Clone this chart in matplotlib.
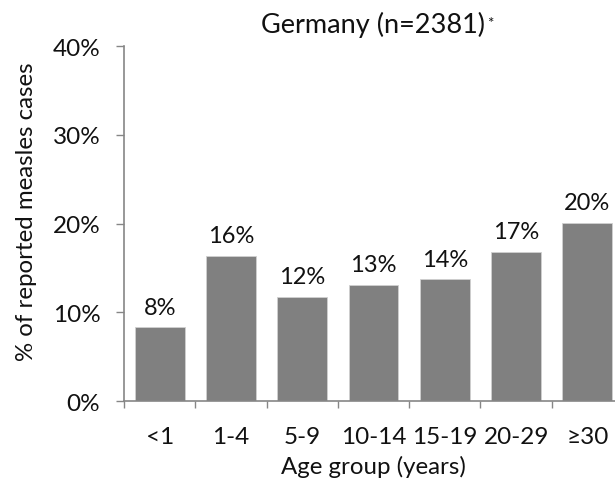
import matplotlib
matplotlib.use("Agg")
import matplotlib.pyplot as plt
from matplotlib.ticker import FixedLocator, PercentFormatter

plt.rcParams['font.family'] = ['Lato', 'DejaVu Sans']

age_groups = ["<1", "1-4", "5-9", "10-14", "15-19", "20-29", "\u226530"]
share_pct = [8.3, 16.4, 11.7, 13.1, 13.7, 16.8, 20.1]
title = "Germany (n=2381)"
y_ticks = [0, 10, 20, 30, 40]

TEXT = "#111111"
AXIS = "#868686"

fig = plt.figure(figsize=(6.15, 4.85), dpi=100)
ax = fig.add_axes([0.2016, 0.171, 0.8114, 0.732])

x = list(range(len(age_groups)))
ax.bar(x, share_pct, width=0.7, color="#808080", edgecolor="#d0d0d0",
       linewidth=0.6)

for xi, v in zip(x, share_pct):
    ax.annotate(f"{round(v):d}%", xy=(xi, v), xytext=(0, 10),
                textcoords="offset points", ha="center", va="baseline",
                fontsize=17, color=TEXT)

ax.set_xlim(-0.5, len(age_groups) - 0.5)
ax.set_ylim(0, 40)
ax.yaxis.set_major_locator(FixedLocator(y_ticks))
ax.yaxis.set_major_formatter(PercentFormatter(decimals=0))

ax.set_xticks(x)
ax.set_xticklabels(age_groups)
ax.set_xticks([i - 0.5 for i in range(len(age_groups) + 1)], minor=True)
ax.tick_params(axis="x", which="major", length=0, pad=18, labelsize=17.5,
               colors=TEXT)
ax.tick_params(axis="x", which="minor", length=5, width=1, color=AXIS,
               direction="out")
ax.tick_params(axis="y", which="major", length=6, width=1, color=AXIS,
               direction="out", labelsize=17.5, labelcolor=TEXT, pad=11)

for side in ("top", "right"):
    ax.spines[side].set_visible(False)
for side in ("left", "bottom"):
    ax.spines[side].set_color(AXIS)
    ax.spines[side].set_linewidth(1.2)

ax.set_xlabel("Age group (years)", fontsize=17.3, color=TEXT)
ax.xaxis.set_label_coords(0.5, -0.152)
ax.set_ylabel("% of reported measles cases", fontsize=17.3, color=TEXT)
ax.yaxis.set_label_coords(-0.175, 0.535)

t = ax.text(0.5, 1.04, title, transform=ax.transAxes, ha="center",
            va="baseline", fontsize=19.5, color=TEXT)
ax.annotate("*", xy=(1, 0.25), xycoords=t, xytext=(1, 0),
            textcoords="offset points", ha="left", va="bottom",
            fontsize=11, color=TEXT)

fig.savefig("out.png", dpi=100)
